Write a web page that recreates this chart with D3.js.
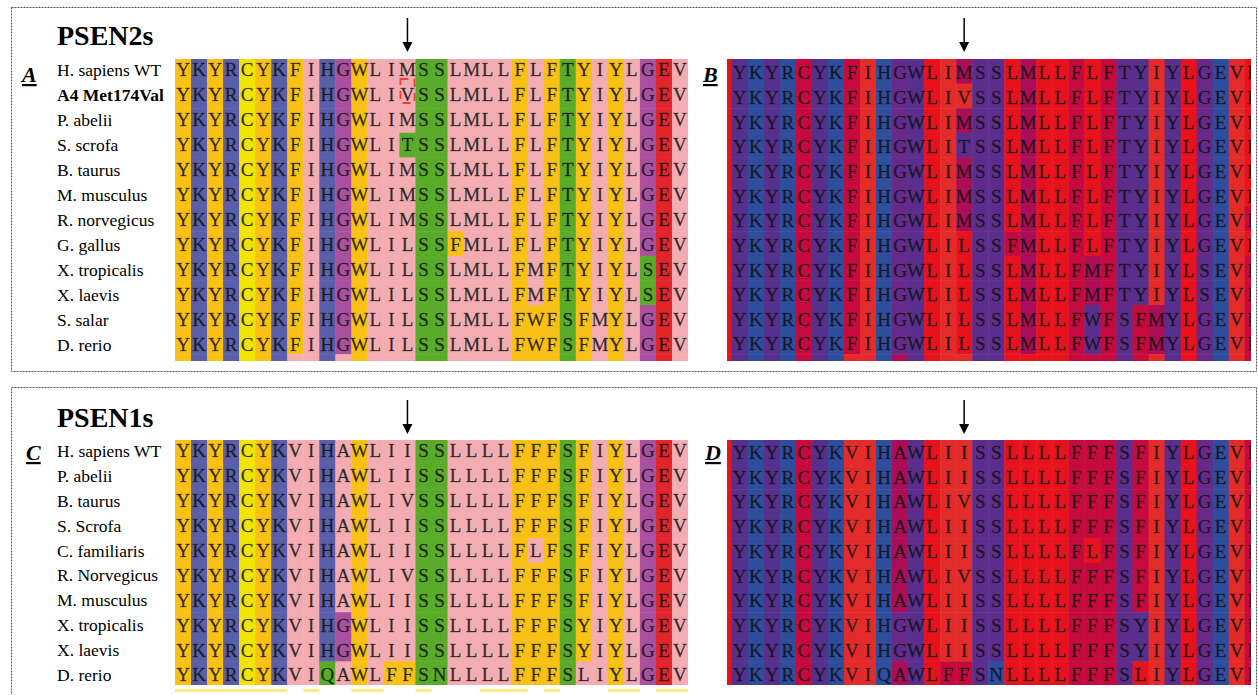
<!DOCTYPE html>
<html>
<head>
<meta charset="utf-8">
<script src="https://cdn.jsdelivr.net/npm/d3@7"></script>
<style>
  body { margin: 0; background: #fff; }
  svg { display: block; }
</style>
</head>
<body>
<div id="chart"></div>
<script>
// PSEN2 / PSEN1 alignment figure, drawn residue by residue

var width = 1258;
var height = 695;

// ---- data ------------------------------------------------------------------
var psen2Species = ["H. sapiens WT", "A4 Met174Val", "P. abelii", "S. scrofa", "B. taurus",
  "M. musculus", "R. norvegicus", "G. gallus", "X. tropicalis", "X. laevis", "S. salar", "D. rerio"];
var psen2Seqs = [
  "YKYRCYKFIHGWLIMSSLMLLFLFTYIYLGEV",
  "YKYRCYKFIHGWLIVSSLMLLFLFTYIYLGEV",
  "YKYRCYKFIHGWLIMSSLMLLFLFTYIYLGEV",
  "YKYRCYKFIHGWLITSSLMLLFLFTYIYLGEV",
  "YKYRCYKFIHGWLIMSSLMLLFLFTYIYLGEV",
  "YKYRCYKFIHGWLIMSSLMLLFLFTYIYLGEV",
  "YKYRCYKFIHGWLIMSSLMLLFLFTYIYLGEV",
  "YKYRCYKFIHGWLILSSFMLLFLFTYIYLGEV",
  "YKYRCYKFIHGWLILSSLMLLFMFTYIYLSEV",
  "YKYRCYKFIHGWLILSSLMLLFMFTYIYLSEV",
  "YKYRCYKFIHGWLILSSLMLLFWFSFMYLGEV",
  "YKYRCYKFIHGWLILSSLMLLFWFSFMYLGEV"
];
// residues just outside the window (only a sliver shows in panel B)
var psen2Before = "LLLLLLLLLLLL";
var psen2After = "LLLLLLFLFFFF";

var psen1Species = ["H. sapiens WT", "P. abelii", "B. taurus", "S. Scrofa", "C. familiaris",
  "R. Norvegicus", "M. musculus", "X. tropicalis", "X. laevis", "D. rerio"];
var psen1Seqs = [
  "YKYRCYKVIHAWLIISSLLLLFFFSFIYLGEV",
  "YKYRCYKVIHAWLIISSLLLLFFFSFIYLGEV",
  "YKYRCYKVIHAWLIVSSLLLLFFFSFIYLGEV",
  "YKYRCYKVIHAWLIISSLLLLFFFSFIYLGEV",
  "YKYRCYKVIHAWLIISSLLLLFLFSFIYLGEV",
  "YKYRCYKVIHAWLIVSSLLLLFFFSFIYLGEV",
  "YKYRCYKVIHAWLIISSLLLLFFFSFIYLGEV",
  "YKYRCYKVIHGWLIISSLLLLFFFSYIYLGEV",
  "YKYRCYKVIHGWLIISSLLLLFFFSYIYLGEV",
  "YKYRCYKVIQAWLFFSNLLLLFFFSLIYLGEV"
];
var psen1Before = "LLLLLLLLLL";
var psen1After = "FFFFFFFFFF";

var boldLabels = ["A4 Met174Val"];
var mutationCell = { row: 1, col: 14 };   // Met174Val
var arrowCol = 14;
// columns with a pale mark below panel C
var markCols = [0, 1, 2, 3, 4, 5, 6, 8, 11, 12, 15, 19, 20, 21, 23, 27, 28, 30, 31];

// ---- colour schemes --------------------------------------------------------
var zappo = [
  ["ILVAM", "#f3adb2"],
  ["FWY", "#f9c116"],
  ["KRH", "#5b5fa9"],
  ["DE", "#e2242b"],
  ["STNQ", "#5bab2b"],
  ["PG", "#a9519e"],
  ["C", "#f0e400"]
];
function zappoColor(r) {
  var g = zappo.find(z => z[0].indexOf(r) >= 0);
  return g ? g[1] : "#fff";
}
var hydro = {
  I: "#e32c2a", V: "#e32c2a", L: "#e8121d", F: "#c60a3d", C: "#c60a3d",
  M: "#ab0e57", A: "#ab0e57", G: "#672a8b", T: "#5c2d8c", S: "#5c2d8c",
  W: "#5a2e8d", Y: "#572f8c", P: "#4f2f90", H: "#2f4e9c", E: "#2e4d9d",
  Q: "#2e4d9d", D: "#2e4d9d", N: "#2e4d9d", K: "#2e4d9d", R: "#2e4d9d"
};
function hydroColor(r) { return hydro[r] || "#fff"; }

// ---- svg -------------------------------------------------------------------
var svg = d3.select("#chart").append("svg")
  .attr("width", width)
  .attr("height", height);

var defs = svg.append("defs");

// dotted frames
svg.append("rect").attr("x", 11.5).attr("y", 7.5).attr("width", 1245).attr("height", 364)
  .attr("fill", "none").attr("stroke", "#555").attr("stroke-dasharray", "2,1");
svg.append("rect").attr("x", 11.5).attr("y", 387.5).attr("width", 1245).attr("height", 330)
  .attr("fill", "none").attr("stroke", "#555").attr("stroke-dasharray", "2,1");

// draws one coloured alignment block
function drawBlock(cfg) {
  var clipId = "clip-" + cfg.id;
  defs.append("clipPath").attr("id", clipId).append("rect")
    .attr("x", cfg.clip[0]).attr("y", cfg.clip[1])
    .attr("width", cfg.clip[2]).attr("height", cfg.clip[3]);

  var block = svg.append("g").attr("clip-path", `url(#${clipId})`);

  var cells = [];
  cfg.rows.forEach(function(seq, r) {
    seq.split("").forEach(function(res, c) {
      cells.push({ row: r, col: c, res: res, strip: r >= cfg.nText });
    });
  });

  block.selectAll("rect.cell")
    .data(cells)
    .enter()
    .append("rect")
    .attr("class", "cell")
    .attr("x", d => cfg.x(d.col))
    .attr("y", d => cfg.y(d.row))
    .attr("width", cfg.x.bandwidth() + 0.5)
    .attr("height", cfg.y.bandwidth() + 0.5)
    .attr("fill", d => cfg.color(d.res));

  // letters (the sliver column on the far left shows no letter)
  block.selectAll("text.res")
    .data(cells.filter(d => !d.strip && d.col >= cfg.firstLetter))
    .enter()
    .append("text")
    .attr("class", "res")
    .attr("x", d => cfg.x(d.col) + cfg.x.bandwidth() / 2)
    .attr("y", d => cfg.textY(d.row))
    .attr("dy", "0.34em")
    .attr("text-anchor", "middle")
    .attr("font-family", "'Liberation Serif', 'Times New Roman', serif")
    .attr("font-size", 19)
    .attr("fill", "#111")
    .attr("fill-opacity", 0.85)
    .attr("stroke", "#111")
    .attr("stroke-opacity", 0.5)
    .attr("stroke-width", 0.4)
    .text(d => d.res);
}

function drawLabels(names, textY, x) {
  svg.append("g").selectAll("text")
    .data(names)
    .enter()
    .append("text")
    .attr("x", x)
    .attr("y", (d, i) => textY(i))
    .attr("dy", "0.34em")
    .attr("font-family", "'Liberation Serif', 'Times New Roman', serif")
    .attr("font-size", 17.5)
    .attr("font-weight", d => boldLabels.indexOf(d) >= 0 ? "bold" : "normal")
    .attr("fill", "#000")
    .text(d => d);
}

function panelLetter(t, x, y) {
  svg.append("text")
    .attr("x", x).attr("y", y)
    .attr("font-family", "'Liberation Serif', 'Times New Roman', serif")
    .attr("font-size", 22)
    .attr("font-weight", "bold")
    .attr("font-style", "italic")
    .attr("text-decoration", "underline")
    .text(t);
}

function title(t, y) {
  svg.append("text")
    .attr("x", 57).attr("y", y)
    .attr("font-family", "'Liberation Serif', 'Times New Roman', serif")
    .attr("font-size", 28)
    .attr("font-weight", "bold")
    .text(t);
}

// downward arrow: shaft plus filled head ending at y2
function arrow(x, y1, y2) {
  svg.append("line")
    .attr("x1", x).attr("x2", x)
    .attr("y1", y1).attr("y2", y2 - 8)
    .attr("stroke", "#000").attr("stroke-width", 1.5);
  svg.append("path")
    .attr("d", `M${x - 5},${y2 - 10} L${x + 5},${y2 - 10} L${x},${y2} Z`)
    .attr("fill", "#000");
}

// ---- scales ----------------------------------------------------------------
var nCols = psen2Seqs[0].length;
var rowH = 24.6;

var xLeft = d3.scaleBand().domain(d3.range(nCols)).range([175, 688]);
var colW = xLeft.bandwidth();
// right panels show one extra residue on each side
var xRight = d3.scaleBand().domain(d3.range(nCols + 2))
  .range([731.7 - colW, 731.7 + (nCols + 1) * colW]);

var yTop = d3.scaleBand().domain(d3.range(psen2Seqs.length + 1))
  .range([59, 59 + (psen2Seqs.length + 1) * rowH]);
var yBottom = d3.scaleBand().domain(d3.range(psen1Seqs.length))
  .range([440, 440 + psen1Seqs.length * rowH]);

var textA = d3.scaleLinear().domain([0, psen2Seqs.length - 1]).range([70, 345]);
var textB = d3.scaleLinear().domain([0, psen2Seqs.length - 1]).range([73, 344]);
var textC = d3.scaleLinear().domain([0, psen1Seqs.length - 1]).range([451, 675]);
var textD = d3.scaleLinear().domain([0, psen1Seqs.length - 1]).range([452.5, 675]);

// ---- PSEN2s ----------------------------------------------------------------
title("PSEN2s", 45);
panelLetter("A", 22, 82);
panelLetter("B", 703, 82);
drawLabels(psen2Species, textA, 57);

// the top of the next figure's first row peeks in under the blocks
var stripLeft = psen1Seqs[0];
var stripRight = psen1Before[0] + psen1Seqs[0] + psen1After[0];

drawBlock({
  id: "a", rows: psen2Seqs.concat([stripLeft]), nText: psen2Seqs.length, firstLetter: 0,
  x: xLeft, y: yTop, textY: textA, color: zappoColor,
  clip: [175, 59, 513, 302]
});
drawBlock({
  id: "b", rows: psen2Seqs.map((s, i) => psen2Before[i] + s + psen2After[i]).concat([stripRight]),
  nText: psen2Seqs.length, firstLetter: 1,
  x: xRight, y: yTop, textY: textB, color: hydroColor,
  clip: [727, 58, 524, 303]
});

// mutated residue box
svg.append("rect")
  .attr("x", xLeft(mutationCell.col) + 1)
  .attr("y", textA(mutationCell.row) - 16)
  .attr("width", colW - 2)
  .attr("height", 24)
  .attr("fill", "none")
  .attr("stroke", "#e4433a")
  .attr("stroke-width", 1.8)
  .attr("stroke-dasharray", "8,6");

arrow(xLeft(arrowCol) + colW / 2, 18, 52);
arrow(xRight(arrowCol + 1) + colW / 2, 18, 52);

// ---- PSEN1s ----------------------------------------------------------------
title("PSEN1s", 427);
panelLetter("C", 26, 460);
panelLetter("D", 705, 460);
drawLabels(psen1Species, textC, 57);

drawBlock({
  id: "c", rows: psen1Seqs, nText: psen1Seqs.length, firstLetter: 0,
  x: xLeft, y: yBottom, textY: textC, color: zappoColor,
  clip: [175, 440, 513, 245]
});
drawBlock({
  id: "d", rows: psen1Seqs.map((s, i) => psen1Before[i] + s + psen1After[i]),
  nText: psen1Seqs.length, firstLetter: 1,
  x: xRight, y: yBottom, textY: textD, color: hydroColor,
  clip: [727, 440, 524, 245]
});

// pale marks under panel C
svg.append("g").selectAll("rect")
  .data(markCols)
  .enter()
  .append("rect")
  .attr("x", d => xLeft(d))
  .attr("y", 689)
  .attr("width", colW)
  .attr("height", 3)
  .attr("fill", "#f8ec8c");

arrow(xLeft(arrowCol) + colW / 2, 400, 434);
arrow(xRight(arrowCol + 1) + colW / 2, 400, 434);
</script>
</body>
</html>
